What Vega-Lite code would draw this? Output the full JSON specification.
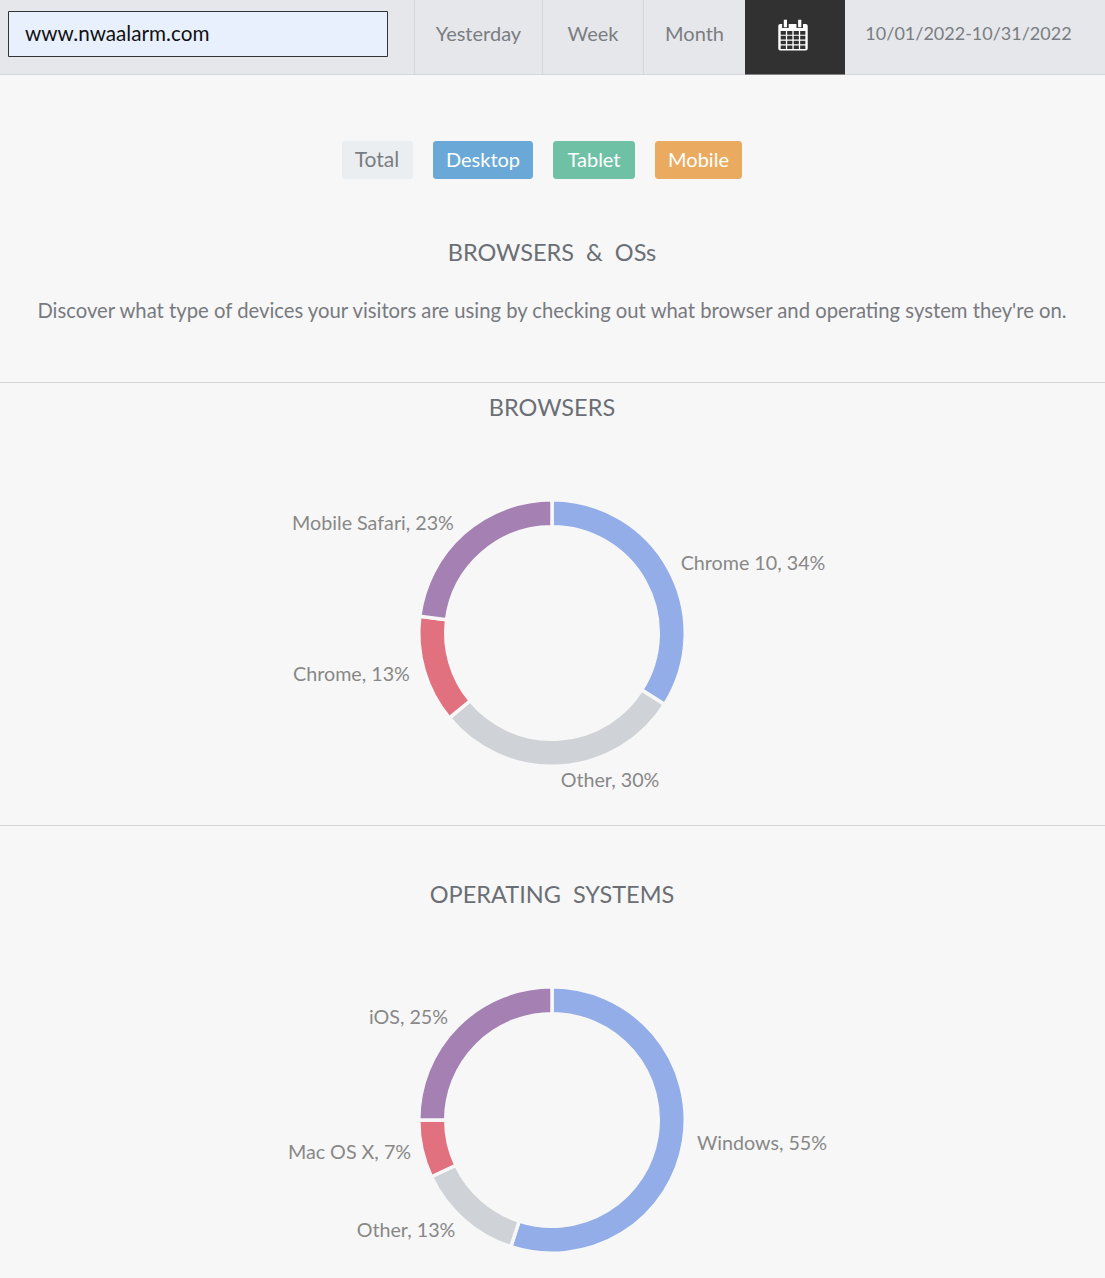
{
"$schema":"https://vega.github.io/schema/vega-lite/v6.json",
"width":1105,"height":1278,
"autosize":"none",
"padding":0,
"background":"#f7f7f7",
"config":{"view":{"stroke":null}},
"datasets":{
"panels":[
{"part":"header","c":0,"c2":35,"r":0,"r2":4}
],
"buttons":[
{"part":"Total","c":3,"c2":11,"r":6,"r2":8},
{"part":"Desktop","c":13,"c2":16,"r":6,"r2":8},
{"part":"Tablet","c":19,"c2":23,"r":6,"r2":8},
{"part":"Mobile","c":25,"c2":28,"r":6,"r2":8}
],
"lines":[
{"line":"header edge","c":0,"c2":35,"r":4,"r2":4},
{"line":"div1","c":12,"c2":12,"r":0,"r2":4},
{"line":"div2","c":17,"c2":17,"r":0,"r2":4},
{"line":"div3","c":24,"c2":24,"r":0,"r2":4},
{"line":"section1","c":0,"c2":35,"r":11,"r2":11},
{"line":"section2","c":0,"c2":35,"r":18,"r2":18}
],
"shares":[
{"chart":"Browsers","name":"Chrome 10","share":34,"rank":1,"c":18,"r":15},
{"chart":"Browsers","name":"Other","share":30,"rank":2,"c":18,"r":15},
{"chart":"Browsers","name":"Chrome","share":13,"rank":3,"c":18,"r":15},
{"chart":"Browsers","name":"Mobile Safari","share":23,"rank":4,"c":18,"r":15},
{"chart":"Operating systems","name":"Windows","share":55,"rank":1,"c":18,"r":21},
{"chart":"Operating systems","name":"Other","share":13,"rank":2,"c":18,"r":21},
{"chart":"Operating systems","name":"Mac OS X","share":7,"rank":3,"c":18,"r":21},
{"chart":"Operating systems","name":"iOS","share":25,"rank":4,"c":18,"r":21}
],
"sliceLabels":[
{"label":"Chrome 10, 34%","c":30,"r":14},
{"label":"Other, 30%","c":22,"r":17},
{"label":"Chrome, 13%","c":5,"r":16},
{"label":"Mobile Safari, 23%","c":6,"r":13},
{"label":"Windows, 55%","c":31,"r":22},
{"label":"Other, 13%","c":9,"r":24},
{"label":"Mac OS X, 7%","c":4,"r":23},
{"label":"iOS, 25%","c":10,"r":20}
],
"headerLabels":[
{"label":"Yesterday","c":14,"r":2},
{"label":"Week","c":20,"r":2},
{"label":"Month","c":26,"r":2}
],
"titles":[
{"label":"BROWSERS \u00a0&\u00a0 OSs","c":18,"r":9},
{"label":"BROWSERS","c":18,"r":12},
{"label":"OPERATING \u00a0SYSTEMS","c":18,"r":19}
]
},
"encoding":{
"x":{"field":"c","type":"quantitative","axis":null,"scale":{"zero":false,"nice":false,
"domain":[0,1,2,3,4,5,6,7,8,9,10,11,12,13,14,15,16,17,18,19,20,21,22,23,24,25,26,27,28,29,30,31,32,33,34,35],
"range":[0,8.5,25,342,349.5,351.5,373,377,387.5,406,408.5,413,414.5,433,478.5,483,533,542.5,552,553,593,594,610,635,643.5,655,694.5,698.5,742,745,753,762,793,845,968.5,1105]}},
"y":{"field":"r","type":"quantitative","axis":null,"scale":{"zero":false,"nice":false,
"domain":[0,1,2,3,4,5,6,7,8,9,10,11,12,13,14,15,16,17,18,19,20,21,22,23,24,25],
"range":[0,11.5,35,56.5,74.5,75.5,141,161,179,254,312,382.5,409,524,564,633,675,781,825.5,895.5,1018,1120,1144,1153,1231,1278]}}
},
"resolve":{"scale":{"color":"independent"}},
"layer":[
{"data":{"name":"panels"},"mark":{"type":"rect","color":"#e5e7ea"},
"encoding":{"x2":{"field":"c2"},"y2":{"field":"r2"}}},
{"data":{"values":[{"part":"search box","c":1,"c2":8,"r":1,"r2":3}]},"mark":{"type":"rect","fill":"#e8f0fe","stroke":"#333333","strokeWidth":1},
"encoding":{"x2":{"field":"c2"},"y2":{"field":"r2"}}},
{"data":{"name":"buttons"},"mark":{"type":"rect","cornerRadius":3},
"encoding":{"x2":{"field":"c2"},"y2":{"field":"r2"},
"color":{"field":"part","type":"nominal","legend":null,"scale":{"domain":["Total","Desktop","Tablet","Mobile"],"range":["#ebeef1","#6aa9d7","#6fc1a5","#eaab60"]}}}},
{"data":{"name":"lines"},"mark":{"type":"rule","color":"#d5d6d9","strokeWidth":1},
"encoding":{"x2":{"field":"c2"},"y2":{"field":"r2"}}},
{"data":{"values":[{"part":"calendar button","c":29,"c2":33,"r":0,"r2":4}]},"mark":{"type":"rect","color":"#313131"},
"encoding":{"x2":{"field":"c2"},"y2":{"field":"r2"}}},
{"data":{"name":"shares"},
"transform":[{"stack":"share","groupby":["chart"],"sort":[{"field":"rank","order":"ascending"}],"as":["t0","t1"]}],
"mark":{"type":"arc","radius":133.25,"radius2":106.25,"stroke":"#f7f7f7","strokeWidth":3.5},
"encoding":{
"theta":{"field":"t0","type":"quantitative","stack":null,"scale":{"domain":[0,100],"range":[0,6.283185]}},
"theta2":{"field":"t1"},
"color":{"field":"name","type":"nominal","legend":null,"scale":{"domain":["Chrome 10","Windows","Other","Chrome","Mac OS X","Mobile Safari","iOS"],"range":["#93ade8","#93ade8","#cfd2d6","#e1717e","#e1717e","#a480b3","#a480b3"]}}}},
{"data":{"name":"sliceLabels"},"mark":{"type":"text","font":"Lato","fontSize":19.7,"color":"#888888","align":"center","baseline":"middle"},
"encoding":{"text":{"field":"label","type":"nominal"}}},
{"data":{"name":"headerLabels"},"mark":{"type":"text","font":"Lato","fontSize":20,"color":"#7a7d82","align":"center","baseline":"middle"},
"encoding":{"text":{"field":"label","type":"nominal"}}},
{"data":{"values":[{"label":"10/01/2022-10/31/2022","c":34,"r":2}]},"mark":{"type":"text","font":"Lato","fontSize":18,"color":"#7a7d82","align":"center","baseline":"middle"},
"encoding":{"text":{"field":"label","type":"nominal"}}},
{"data":{"values":[{"label":"www.nwaalarm.com","c":2,"r":2}]},"mark":{"type":"text","font":"Lato","fontSize":20.7,"color":"#111111","align":"left","baseline":"middle"},
"encoding":{"text":{"field":"label","type":"nominal"}}},
{"data":{"values":[{"label":"Total","c":7,"r":7}]},"mark":{"type":"text","font":"Lato","fontSize":21,"color":"#7a7d82","align":"center","baseline":"middle"},
"encoding":{"text":{"field":"label","type":"nominal"}}},
{"data":{"values":[{"label":"Desktop","c":15,"r":7},{"label":"Tablet","c":21,"r":7},{"label":"Mobile","c":27,"r":7}]},"mark":{"type":"text","font":"Lato","fontSize":20,"color":"#ffffff","align":"center","baseline":"middle"},
"encoding":{"text":{"field":"label","type":"nominal"}}},
{"data":{"name":"titles"},"mark":{"type":"text","font":"Lato","fontSize":23.5,"color":"#6b6f75","align":"center","baseline":"middle"},
"encoding":{"text":{"field":"label","type":"nominal"}}},
{"data":{"values":[{"label":"Discover what type of devices your visitors are using by checking out what browser and operating system they're on.","c":18,"r":10}]},"mark":{"type":"text","font":"Lato","fontSize":20.25,"color":"#777a7f","align":"center","baseline":"middle"},
"encoding":{"text":{"field":"label","type":"nominal"}}},
{"data":{"values":[{"icon":"calendar","c":32,"r":2}]},
"mark":{"type":"point","filled":true,"fill":"#ffffff","opacity":1,"strokeWidth":0,"size":1024,
"shape":"M-0.92 -0.56Q-0.92 -0.68 -0.8 -0.68H0.8Q0.92 -0.68 0.92 -0.56V0.85Q0.92 0.97 0.8 0.97H-0.8Q-0.92 0.97 -0.92 0.85ZM-0.68 -0.68V-0.44H-0.27V-0.68ZM0.215 -0.68V-0.44H0.625V-0.68ZM-0.575 -0.96H-0.375V-0.48H-0.575ZM0.32 -0.96H0.52V-0.48H0.32ZM-0.77 -0.2475V-0.0225H-0.445V-0.2475ZM-0.364 -0.2475V-0.0225H-0.039V-0.2475ZM0.042 -0.2475V-0.0225H0.367V-0.2475ZM0.448 -0.2475V-0.0225H0.773V-0.2475ZM-0.77 0.0525V0.2775H-0.445V0.0525ZM-0.364 0.0525V0.2775H-0.039V0.0525ZM0.042 0.0525V0.2775H0.367V0.0525ZM0.448 0.0525V0.2775H0.773V0.0525ZM-0.77 0.3525V0.5775H-0.445V0.3525ZM-0.364 0.3525V0.5775H-0.039V0.3525ZM0.042 0.3525V0.5775H0.367V0.3525ZM0.448 0.3525V0.5775H0.773V0.3525ZM-0.77 0.6525V0.8775H-0.445V0.6525ZM-0.364 0.6525V0.8775H-0.039V0.6525ZM0.042 0.6525V0.8775H0.367V0.6525ZM0.448 0.6525V0.8775H0.773V0.6525Z"}}
]
}
